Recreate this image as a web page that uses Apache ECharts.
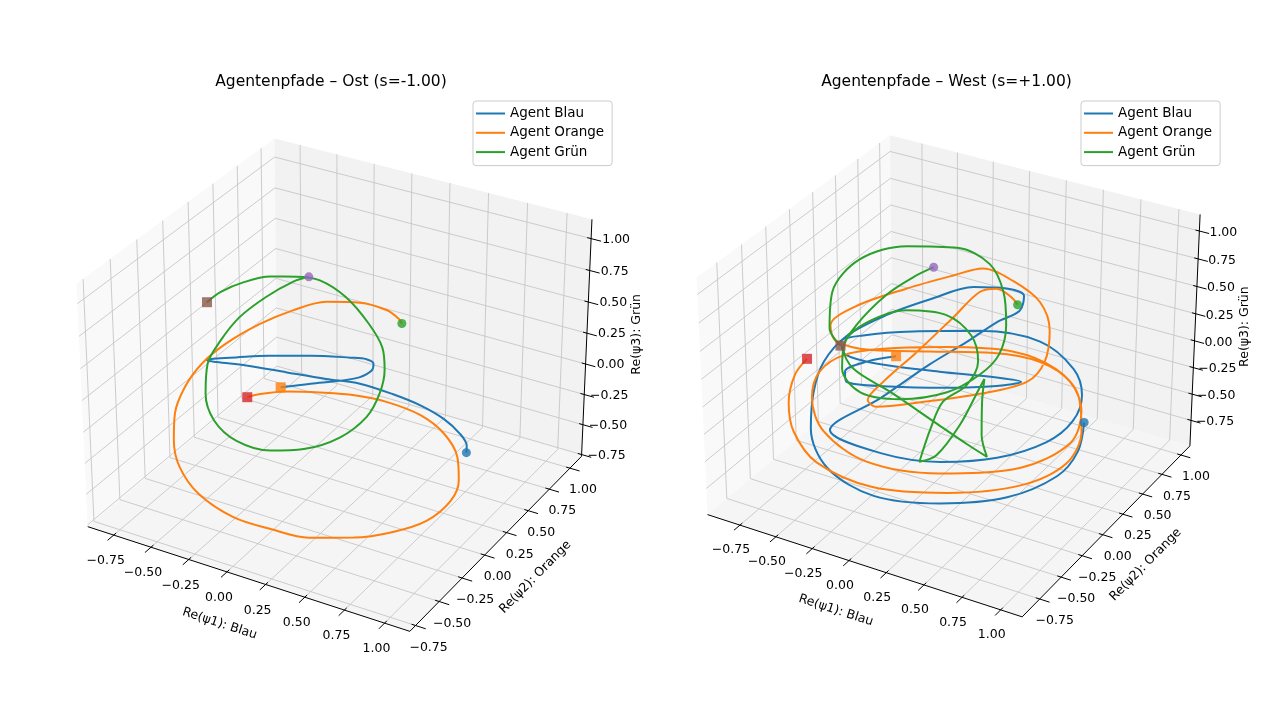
<!DOCTYPE html>
<html><head><meta charset="utf-8">
<script src="https://cdn.jsdelivr.net/npm/echarts@6/dist/echarts.min.js"></script>
<style>html,body{margin:0;padding:0;background:#fff}#c{width:1280px;height:720px}</style>
</head><body><div id="c"></div><script>
// ---------- data ----------
const tickValues = [-0.75, -0.5, -0.25, 0, 0.25, 0.5, 0.75, 1.0];
const tickLabels = ['\u22120.75', '\u22120.50', '\u22120.25', '0.00', '0.25', '0.50', '0.75', '1.00'];
const axisTitles = ['Re(\u03c81): Blau', 'Re(\u03c82): Orange', 'Re(\u03c83): Gr\u00fcn'];
const agentNames = ['Agent Blau', 'Agent Orange', 'Agent Gr\u00fcn'];
const panelTitles = ['Agentenpfade \u2013 Ost (s=-1.00)', 'Agentenpfade \u2013 West (s=+1.00)'];

// Ost (s = -1.00)
const ostBlauX = [-0.15,-0.01,0.13,0.22,0.27,0.27,0.23,0.15,-0.05,-0.25,-0.41,-0.52,-0.55,-0.50,-0.35,-0.14,0.06,0.23,0.41,0.56,0.69,0.79,0.84,0.85];
const ostBlauY = [-0.02,0.07,0.15,0.21,0.26,0.28,0.27,0.23,0.13,0.02,-0.07,-0.13,-0.15,-0.13,-0.06,0.03,0.12,0.20,0.26,0.31,0.34,0.35,0.34,0.32];
const ostBlauZ = [0.11,0.13,0.15,0.17,0.21,0.25,0.28,0.29,0.30,0.30,0.29,0.28,0.27,0.26,0.24,0.20,0.16,0.13,0.07,0.00,-0.08,-0.17,-0.24,-0.28];
const ostOrangeX = [-0.30,-0.24,-0.12,0.05,0.22,0.39,0.57,0.71,0.81,0.85,0.84,0.75,0.60,0.42,0.20,0.00,-0.20,-0.40,-0.53,-0.60,-0.63,-0.62,-0.57,-0.48,-0.34,-0.20,-0.05,0.12,0.26,0.33,0.35];
const ostOrangeY = [-0.13,-0.09,-0.01,0.07,0.16,0.23,0.29,0.31,0.29,0.24,0.17,0.06,-0.05,-0.17,-0.29,-0.37,-0.44,-0.48,-0.47,-0.42,-0.36,-0.27,-0.17,-0.06,0.07,0.19,0.30,0.38,0.44,0.45,0.45];
const ostOrangeZ = [0.05,0.07,0.08,0.08,0.06,0.02,-0.06,-0.17,-0.31,-0.45,-0.57,-0.69,-0.76,-0.79,-0.79,-0.74,-0.67,-0.53,-0.37,-0.21,-0.05,0.11,0.25,0.37,0.49,0.57,0.62,0.62,0.57,0.52,0.49];
const ostGruenX = [-0.63,-0.58,-0.48,-0.36,-0.23,-0.11,0.04,0.19,0.29,0.33,0.34,0.31,0.21,0.05,-0.11,-0.29,-0.43,-0.51,-0.54,-0.51,-0.45,-0.35,-0.24,-0.17];
const ostGruenY = [-0.02,0.04,0.12,0.21,0.28,0.33,0.36,0.36,0.34,0.30,0.23,0.14,0.02,-0.10,-0.19,-0.26,-0.27,-0.23,-0.16,-0.07,0.03,0.15,0.26,0.31];
const ostGruenZ = [0.62,0.68,0.74,0.77,0.77,0.75,0.65,0.49,0.35,0.21,0.07,-0.07,-0.19,-0.26,-0.27,-0.21,-0.09,0.07,0.25,0.39,0.53,0.65,0.74,0.77];

// West (s = +1.00)
const westBlauX = [-0.22,-0.36,-0.46,-0.44,-0.21,0.08,0.33,0.45,0.32,0.02,-0.29,-0.48,-0.52,-0.42,-0.17,0.17,0.49,0.70,0.78,0.77,0.67,0.44,0.16,-0.16,-0.45,-0.24,-0.04,0.12,0.24,0.34,0.34,0.24,0.07,-0.13,-0.33,-0.50,-0.58,-0.59,-0.55,-0.41,-0.13,0.22,0.55,0.77,0.84,0.83];
const westBlauY = [-0.06,-0.15,-0.24,-0.26,-0.15,0.01,0.16,0.24,0.18,0.03,-0.12,-0.20,-0.18,-0.10,0.05,0.25,0.39,0.42,0.38,0.29,0.16,-0.02,-0.19,-0.34,-0.43,-0.21,0.02,0.18,0.32,0.41,0.46,0.43,0.34,0.18,0.02,-0.15,-0.28,-0.38,-0.48,-0.53,-0.47,-0.30,-0.09,0.11,0.23,0.32];
const westBlauZ = [0.14,0.10,0.03,-0.04,-0.07,-0.08,-0.07,-0.04,-0.01,0.03,0.08,0.15,0.24,0.28,0.31,0.31,0.24,0.05,-0.13,-0.31,-0.45,-0.56,-0.59,-0.53,-0.37,-0.15,0.08,0.24,0.37,0.45,0.55,0.60,0.61,0.53,0.42,0.28,0.10,-0.11,-0.36,-0.63,-0.82,-0.87,-0.83,-0.69,-0.52,-0.32];
const westOrangeX = [-0.67,-0.71,-0.70,-0.63,-0.47,-0.15,0.24,0.60,0.80,0.83,0.76,0.61,0.37,0.02,-0.26,-0.48,-0.59,-0.59,-0.48,-0.22,0.17,0.57,0.79,0.80,0.70,0.52,0.27,-0.06,-0.35,-0.55,-0.60,-0.50,-0.27,-0.05,0.09,0.26,0.43,0.52,0.54,0.48,0.26,-0.03,-0.25,-0.30,-0.25,-0.12,0.01,0.11,0.19,0.28,0.32];
const westOrangeY = [-0.32,-0.39,-0.48,-0.54,-0.55,-0.45,-0.25,-0.02,0.17,0.29,0.37,0.37,0.29,0.11,-0.05,-0.20,-0.31,-0.40,-0.45,-0.40,-0.22,0.02,0.23,0.34,0.38,0.34,0.23,0.05,-0.11,-0.19,-0.17,-0.05,0.14,0.31,0.41,0.47,0.49,0.45,0.36,0.26,0.09,-0.10,-0.24,-0.25,-0.16,0.01,0.20,0.34,0.40,0.42,0.42];
const westOrangeZ = [0.12,0.01,-0.18,-0.38,-0.59,-0.76,-0.80,-0.75,-0.60,-0.38,-0.13,0.05,0.17,0.20,0.19,0.15,0.03,-0.15,-0.38,-0.59,-0.67,-0.63,-0.46,-0.24,-0.04,0.10,0.16,0.17,0.18,0.24,0.35,0.48,0.60,0.69,0.74,0.65,0.51,0.31,0.10,-0.04,-0.12,-0.18,-0.21,-0.16,-0.04,0.17,0.40,0.58,0.60,0.54,0.49];
const westGruenX = [-0.52,-0.60,-0.64,-0.55,-0.33,-0.07,0.12,0.23,0.29,0.30,0.23,0.09,-0.14,-0.35,-0.48,-0.50,-0.42,-0.24,-0.03,0.13,0.20,0.18,0.08,0.06,0.05,0.13,0.20,0.25,0.26,0.28,0.33,0.39,0.27,0.06,-0.20,-0.42,-0.50,-0.47,-0.36,-0.25,-0.16];
const westGruenY = [-0.19,-0.18,-0.08,0.08,0.25,0.39,0.44,0.41,0.34,0.24,0.14,0.00,-0.15,-0.25,-0.24,-0.17,-0.06,0.09,0.19,0.21,0.17,0.07,-0.03,-0.14,-0.25,-0.19,-0.04,0.10,0.14,0.08,-0.01,-0.05,-0.07,-0.11,-0.16,-0.21,-0.19,-0.09,0.07,0.19,0.27];
const westGruenZ = [0.21,0.33,0.58,0.80,0.89,0.88,0.77,0.58,0.35,0.15,0.01,-0.11,-0.16,-0.11,0.05,0.24,0.37,0.45,0.42,0.28,0.10,-0.06,-0.18,-0.36,-0.59,-0.54,-0.34,-0.08,-0.02,-0.18,-0.40,-0.55,-0.47,-0.31,-0.11,0.05,0.19,0.35,0.56,0.68,0.75];

// ---------- styles ----------
const lineColors = ['#1f77b4', '#ff7f0e', '#2ca02c'];
const startColors = ['#ff7f0e', '#d62728', '#8c564b'];
const endColors = ['#1f77b4', '#2ca02c', '#9467bd'];
const FONT = 'DejaVu Sans';
const GRID = '#c6c6c6';

const panels = [
  { title: panelTitles[0], cx: 339, cy: 373.5, S: 3230,
    xlim: [-0.926, 1.156], ylim: [-0.81, 1.143], zlim: [-0.765, 1.15],
    titleX: 331, legendX: 473, xOff: [-8, 26], yOff: [13, 22], zOff: [25, 1],
    paths: [[ostBlauX, ostBlauY, ostBlauZ], [ostOrangeX, ostOrangeY, ostOrangeZ], [ostGruenX, ostGruenY, ostGruenZ]] },
  { title: panelTitles[1], cx: 953, cy: 365, S: 3155,
    xlim: [-0.978, 1.138], ylim: [-0.95, 1.12], zlim: [-0.995, 1.148],
    titleX: 946.5, legendX: 1081, xOff: [-9, 25], yOff: [15, 22], zOff: [24, 1.5],
    paths: [[westBlauX, westBlauY, westBlauZ], [westOrangeX, westOrangeY, westOrangeZ], [westGruenX, westGruenY, westGruenZ]] }
];

// ---------- matplotlib-like 3D projection (elev 30, azim -60, persp) ----------
const K = 1.8294640721620434 / Math.sqrt(41);
const BOX = [4 * K, 4 * K, 3 * K];
const ELEV = 30 * Math.PI / 180, AZIM = -60 * Math.PI / 180, DIST = 10;
const Wv = [Math.cos(ELEV) * Math.cos(AZIM), Math.cos(ELEV) * Math.sin(AZIM), Math.sin(ELEV)];
let Uv = [-Wv[1], Wv[0], 0];
const nU = Math.hypot(Uv[0], Uv[1]); Uv = Uv.map(t => t / nU);
const Vv = [Wv[1] * Uv[2] - Wv[2] * Uv[1], Wv[2] * Uv[0] - Wv[0] * Uv[2], Wv[0] * Uv[1] - Wv[1] * Uv[0]];
function project(p, x, y, z) {
  const q = [
    (x - p.xlim[0]) / (p.xlim[1] - p.xlim[0]) * BOX[0] - BOX[0] / 2,
    (y - p.ylim[0]) / (p.ylim[1] - p.ylim[0]) * BOX[1] - BOX[1] / 2,
    (z - p.zlim[0]) / (p.zlim[1] - p.zlim[0]) * BOX[2] - BOX[2] / 2];
  const d = DIST - (Wv[0] * q[0] + Wv[1] * q[1] + Wv[2] * q[2]);
  return [(Uv[0] * q[0] + Uv[1] * q[1] + Uv[2] * q[2]) / d,
          (Vv[0] * q[0] + Vv[1] * q[1] + Vv[2] * q[2]) / d];
}

function boxRender(p, api) {
  const [x0, x1] = p.xlim, [y0, y1] = p.ylim, [z0, z1] = p.zlim;
  const xr = x1 - x0, yr = y1 - y0;
  const P = (a) => api.coord(project(p, a[0], a[1], a[2]));
  const ch = [];
  const poly = (pts, fill) => ({ type: 'polygon', shape: { points: pts.map(P) }, style: { fill: fill } });
  const seg = (a, b, stroke, w) => { const A = P(a), B = P(b);
    return { type: 'line', shape: { x1: A[0], y1: A[1], x2: B[0], y2: B[1] }, style: { stroke: stroke, lineWidth: w } }; };
  const txt = (pt, off, text, rot, size) => ({ type: 'text', x: pt[0] + off[0], y: pt[1] + off[1], rotation: rot || 0,
    style: { text: text, fill: '#000', fontSize: size || 12.5, fontFamily: FONT, align: 'center', verticalAlign: 'middle' } });
  ch.push(poly([[x0, y0, z0], [x1, y0, z0], [x1, y1, z0], [x0, y1, z0]], '#f5f5f5'));
  ch.push(poly([[x0, y0, z0], [x0, y1, z0], [x0, y1, z1], [x0, y0, z1]], '#f9f9f9'));
  ch.push(poly([[x0, y1, z0], [x1, y1, z0], [x1, y1, z1], [x0, y1, z1]], '#f2f2f2'));
  tickValues.forEach(t => {
    ch.push(seg([t, y0, z0], [t, y1, z0], GRID, 0.9));
    ch.push(seg([x0, t, z0], [x1, t, z0], GRID, 0.9));
    ch.push(seg([t, y1, z0], [t, y1, z1], GRID, 0.9));
    ch.push(seg([x0, y1, t], [x1, y1, t], GRID, 0.9));
    ch.push(seg([x0, t, z0], [x0, t, z1], GRID, 0.9));
    ch.push(seg([x0, y0, t], [x0, y1, t], GRID, 0.9));
  });
  ch.push(seg([x0, y0, z0], [x1, y0, z0], '#000', 1));
  ch.push(seg([x1, y0, z0], [x1, y1, z0], '#000', 1));
  ch.push(seg([x1, y1, z0], [x1, y1, z1], '#000', 1));
  tickValues.forEach((t, i) => {
    ch.push(seg([t, y0 + 0.012 * yr, z0], [t, y0 - 0.03 * yr, z0], '#000', 1));
    ch.push(seg([x1 - 0.012 * xr, t, z0], [x1 + 0.03 * xr, t, z0], '#000', 1));
    ch.push(seg([x1 - 0.012 * xr, y1, t], [x1 + 0.03 * xr, y1, t], '#000', 1));
    ch.push(txt(P([t, y0, z0]), p.xOff, tickLabels[i]));
    ch.push(txt(P([x1, t, z0]), p.yOff, tickLabels[i]));
    ch.push(txt(P([x1, y1, t]), p.zOff, tickLabels[i]));
  });
  const ax = (a, b) => { const A = P(a), B = P(b); return Math.atan2(A[1] - B[1], B[0] - A[0]); };
  ch.push(txt(P([(x0 + x1) / 2, y0, z0]), [-25, 46], axisTitles[0], ax([x0, y0, z0], [x1, y0, z0])));
  ch.push(txt(P([x1, (y0 + y1) / 2, z0]), [36, 37], axisTitles[1], ax([x1, y0, z0], [x1, y1, z0])));
  ch.push(txt(P([x1, y1, (z0 + z1) / 2]), [50, -6], axisTitles[2], Math.PI / 2));
  return { type: 'group', children: ch };
}

const grids = [], xAxes = [], yAxes = [], series = [], titles = [], legends = [];
panels.forEach((p, i) => {
  grids.push({ left: 0, top: 0, width: 1280, height: 720 });
  xAxes.push({ type: 'value', gridIndex: i, min: -p.cx / p.S, max: (1280 - p.cx) / p.S, show: false });
  yAxes.push({ type: 'value', gridIndex: i, min: (p.cy - 720) / p.S, max: p.cy / p.S, show: false });
  series.push({ type: 'custom', xAxisIndex: i, yAxisIndex: i, data: [[0, 0]], silent: true, z: 1,
    renderItem: (params, api) => boxRender(p, api) });
  p.paths.forEach((path, j) => {
    const [X, Y, Z] = path;
    series.push({ type: 'line', name: agentNames[j], xAxisIndex: i, yAxisIndex: i, z: 2,
      data: X.map((x, k) => project(p, x, Y[k], Z[k])),
      symbol: 'none', showSymbol: false, smooth: 0.33, clip: false,
      lineStyle: { color: lineColors[j], width: 2 }, itemStyle: { color: lineColors[j] } });
  });
  p.paths.forEach((path, j) => {
    const [X, Y, Z] = path, n = X.length - 1;
    series.push({ type: 'scatter', xAxisIndex: i, yAxisIndex: i, z: 3, symbol: 'circle', symbolSize: 9, silent: true,
      data: [{ value: project(p, X[n], Y[n], Z[n]), itemStyle: { color: endColors[j] } }] });
    series.push({ type: 'scatter', xAxisIndex: i, yAxisIndex: i, z: 3, symbol: 'rect', symbolSize: 10, silent: true,
      data: [{ value: project(p, X[0], Y[0], Z[0]), itemStyle: { color: startColors[j] } }] });
  });
  titles.push({ text: p.title, left: p.titleX, top: 74, textAlign: 'center', padding: 0,
    textStyle: { fontSize: 15.5, fontWeight: 'normal', fontFamily: FONT, color: '#000' } });
  legends.push({ data: agentNames, orient: 'vertical', left: p.legendX, top: 101, icon: 'rect',
    itemWidth: 29, itemHeight: 2, itemGap: 4.3, itemTextGap: 10,
    padding: [5, 8, 6, 3], backgroundColor: 'rgba(255,255,255,0.8)', borderColor: '#cccccc', borderWidth: 1, borderRadius: 3,
    textStyle: { fontSize: 13.5, fontFamily: FONT, color: '#000', lineHeight: 15 } });
});

const chart = echarts.init(document.getElementById('c'), null, { renderer: 'canvas' });
chart.setOption({
  animation: false, backgroundColor: '#fff',
  textStyle: { fontFamily: FONT },
  title: titles, legend: legends, grid: grids, xAxis: xAxes, yAxis: yAxes, series: series
});
</script></body></html>
